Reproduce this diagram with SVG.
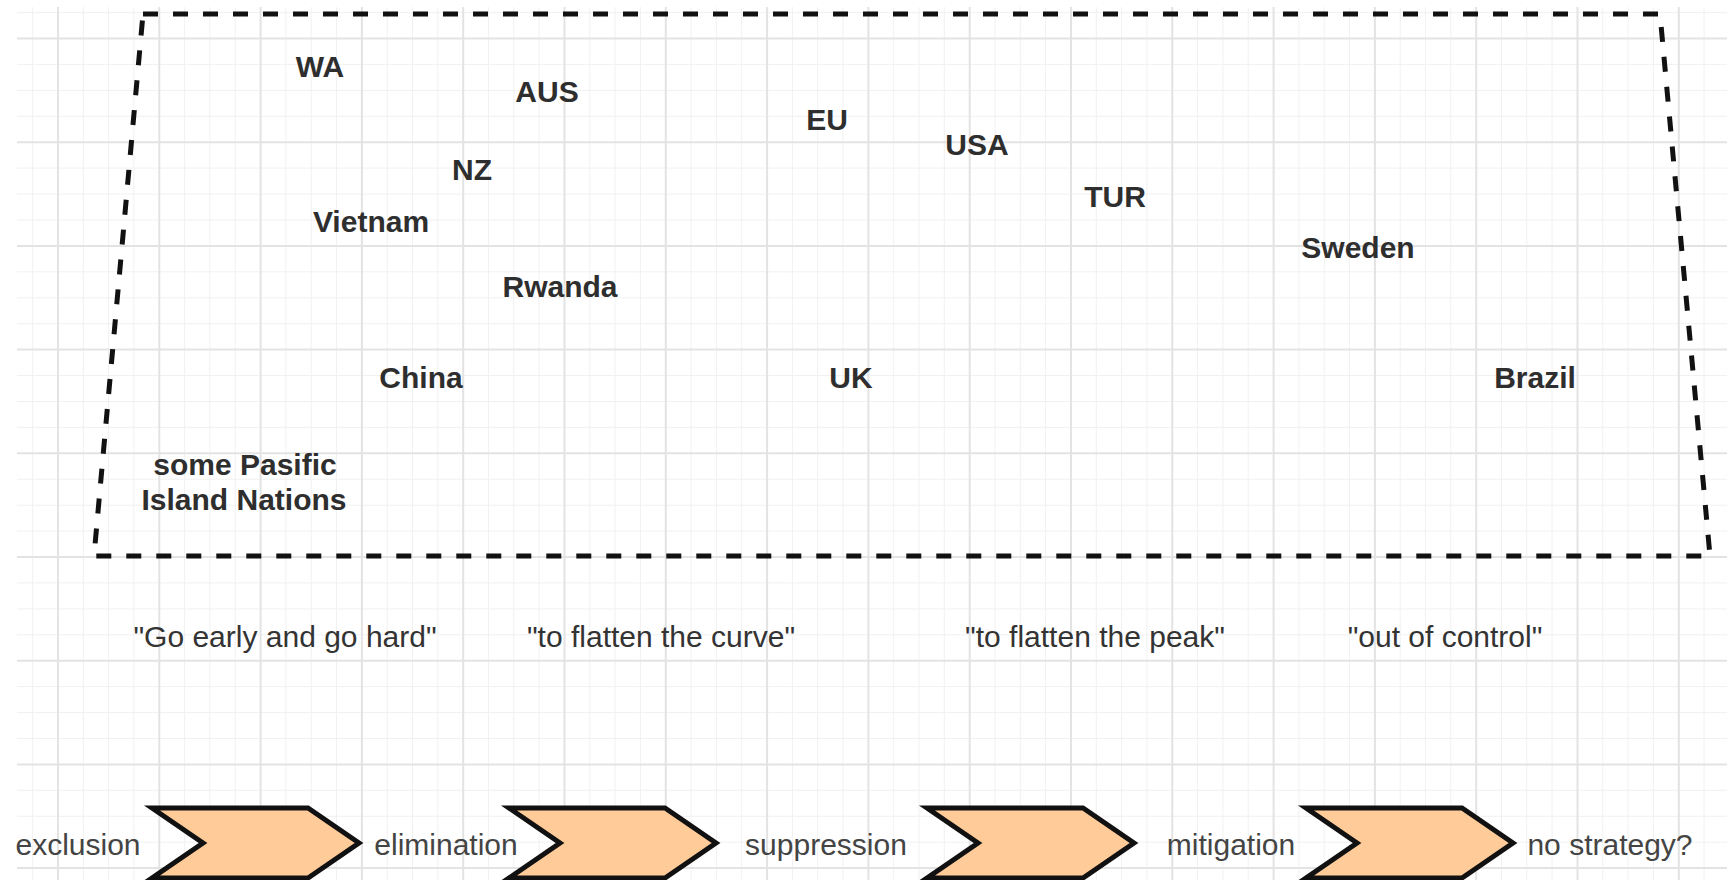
<svg xmlns="http://www.w3.org/2000/svg" width="1727" height="880" viewBox="0 0 1727 880">
<style>
.major{stroke:#e3e3e3;stroke-width:2;fill:none}
.minor{stroke:#f1f1f1;stroke-width:1;fill:none}
.lbl{font-family:"Liberation Sans",Arial,Helvetica,sans-serif;font-size:30px;font-weight:bold;fill:#2e2e2e;text-anchor:middle}
.quote{font-family:"Liberation Sans",Arial,Helvetica,sans-serif;font-size:30px;fill:#333;text-anchor:middle}
.step{font-family:"Liberation Sans",Arial,Helvetica,sans-serif;font-size:30px;fill:#444;text-anchor:middle}
.chev{fill:#FFCC99;stroke:#111;stroke-width:5;stroke-linejoin:miter}
.frame{fill:none;stroke:#111;stroke-width:5;stroke-dasharray:15 15}
</style>
<rect x="0" y="0" width="1727" height="880" fill="#ffffff"/>
<g id="grid">
<path class="minor" d="M32.7 7V880M83.3 7V880M108.6 7V880M133.9 7V880M184.6 7V880M209.9 7V880M235.2 7V880M285.9 7V880M311.2 7V880M336.5 7V880M387.2 7V880M412.5 7V880M437.8 7V880M488.5 7V880M513.8 7V880M539.1 7V880M589.8 7V880M615.1 7V880M640.4 7V880M691.1 7V880M716.4 7V880M741.7 7V880M792.4 7V880M817.7 7V880M843 7V880M893.7 7V880M919 7V880M944.3 7V880M995 7V880M1020.3 7V880M1045.6 7V880M1096.3 7V880M1121.6 7V880M1146.9 7V880M1197.6 7V880M1222.9 7V880M1248.2 7V880M1298.9 7V880M1324.2 7V880M1349.5 7V880M1400.2 7V880M1425.5 7V880M1450.8 7V880M1501.5 7V880M1526.8 7V880M1552.1 7V880M1602.8 7V880M1628.1 7V880M1653.4 7V880M1704.1 7V880"/>
<path class="minor" d="M17 12.6H1727M17 64.4H1727M17 90.4H1727M17 116.3H1727M17 168.1H1727M17 194.1H1727M17 220H1727M17 271.8H1727M17 297.8H1727M17 323.7H1727M17 375.5H1727M17 401.5H1727M17 427.4H1727M17 479.2H1727M17 505.2H1727M17 531.1H1727M17 582.9H1727M17 608.9H1727M17 634.8H1727M17 686.6H1727M17 712.6H1727M17 738.5H1727M17 790.3H1727M17 816.3H1727M17 842.2H1727"/>
<path class="major" d="M58 7V880M159.3 7V880M260.6 7V880M361.9 7V880M463.2 7V880M564.5 7V880M665.8 7V880M767.1 7V880M868.4 7V880M969.7 7V880M1071 7V880M1172.3 7V880M1273.6 7V880M1374.9 7V880M1476.2 7V880M1577.5 7V880M1678.8 7V880"/>
<path class="major" d="M17 38.5H1727M17 142.2H1727M17 245.9H1727M17 349.6H1727M17 453.3H1727M17 557H1727M17 660.7H1727M17 764.4H1727M17 868.1H1727"/>
</g>
<g id="frame">
<path class="frame" d="M143 14L1660 14L1710 556L94 556Z"/>
</g>
<g id="connectors"></g>
<g id="n-WA"><text class="lbl" x="320" y="77">WA</text></g>
<g id="n-AUS"><text class="lbl" x="547" y="102">AUS</text></g>
<g id="n-EU"><text class="lbl" x="827" y="130">EU</text></g>
<g id="n-USA"><text class="lbl" x="977" y="155">USA</text></g>
<g id="n-NZ"><text class="lbl" x="472" y="180">NZ</text></g>
<g id="n-TUR"><text class="lbl" x="1115" y="207">TUR</text></g>
<g id="n-Vietnam"><text class="lbl" x="371" y="232">Vietnam</text></g>
<g id="n-Sweden"><text class="lbl" x="1358" y="258">Sweden</text></g>
<g id="n-Rwanda"><text class="lbl" x="560" y="297">Rwanda</text></g>
<g id="n-China"><text class="lbl" x="421" y="388">China</text></g>
<g id="n-UK"><text class="lbl" x="851" y="388">UK</text></g>
<g id="n-Brazil"><text class="lbl" x="1535" y="388">Brazil</text></g>
<g id="n-Pacific"><text class="lbl" x="245" y="475">some Pasific</text><text class="lbl" x="244" y="510">Island Nations</text></g>
<g id="q-early"><text class="quote" x="285" y="647">"Go early and go hard"</text></g>
<g id="q-curve"><text class="quote" x="661" y="647">"to flatten the curve"</text></g>
<g id="q-peak"><text class="quote" x="1095" y="647">"to flatten the peak"</text></g>
<g id="q-control"><text class="quote" x="1445" y="647">"out of control"</text></g>
<g id="s-exclusion"><text class="step" x="78" y="855">exclusion</text></g>
<g id="chev1"><path class="chev" d="M152 808H308L359 843L308 878H152L203 843Z"/></g>
<g id="s-elimination"><text class="step" x="446" y="855">elimination</text></g>
<g id="chev2"><path class="chev" d="M509 808H665L716 843L665 878H509L560 843Z"/></g>
<g id="s-suppression"><text class="step" x="826" y="855">suppression</text></g>
<g id="chev3"><path class="chev" d="M927 808H1083L1134 843L1083 878H927L978 843Z"/></g>
<g id="s-mitigation"><text class="step" x="1231" y="855">mitigation</text></g>
<g id="chev4"><path class="chev" d="M1306 808H1462L1513 843L1462 878H1306L1357 843Z"/></g>
<g id="s-nostrategy"><text class="step" x="1610" y="855">no strategy?</text></g>
</svg>
